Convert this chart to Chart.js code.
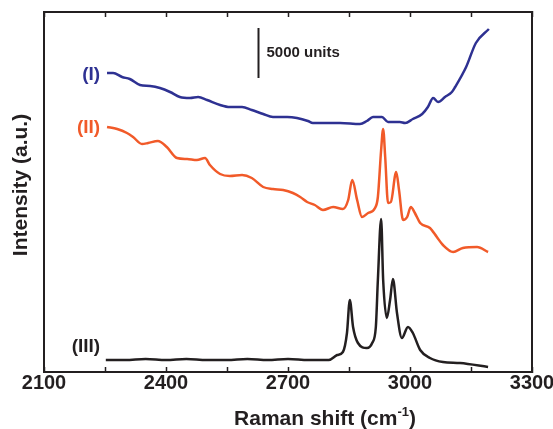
<!DOCTYPE html>
<html>
<head>
<meta charset="utf-8">
<script src="https://cdn.jsdelivr.net/npm/chart.js@4.4.1/dist/chart.umd.min.js"></script>
<style>
  html, body { margin: 0; padding: 0; background: #fff; }
</style>
</head>
<body>
<canvas id="chart" width="553" height="429"></canvas>
<script>
const FONT = '"Liberation Sans", Arial, Helvetica, sans-serif';
const INK = '#231f20';

// x ticks (majors labelled, minors in between)
const xMin = 2100, xMax = 3300, xMinorStep = 150, xMajorStep = 300;
const yMin = 0, yMax = 36000;

const seriesNames = ['(I)', '(II)', '(III)'];
const seriesColors = ['#2e3192', '#f15a29', INK];

// (I)
const blueX = [2255, 2270, 2292, 2311, 2336, 2361, 2385, 2410, 2434, 2459, 2479, 2501, 2533, 2557, 2587, 2611,
  2639, 2663, 2698, 2722, 2749, 2761, 2796, 2828, 2877, 2894, 2909, 2931, 2946, 2975, 2988, 3007, 3030, 3044,
  3057, 3069, 3086, 3103, 3111, 3138, 3162, 3194];
const blueY = [29900, 29900, 29500, 29300, 28700, 28600, 28400, 28000, 27500, 27400, 27500, 27200, 26700, 26500,
  26500, 26200, 25800, 25500, 25500, 25400, 25100, 24900, 24900, 24900, 24800, 25100, 25500, 25500, 25000, 25000,
  24900, 25300, 25800, 26500, 27400, 27000, 27500, 28000, 28500, 30500, 32900, 34300];

// (II)
const orangeX = [2255, 2280, 2304, 2319, 2341, 2356, 2380, 2402, 2427, 2452, 2476, 2496, 2508, 2533, 2557, 2587,
  2611, 2639, 2663, 2688, 2712, 2730, 2747, 2766, 2786, 2811, 2835, 2848, 2858, 2870, 2882, 2897, 2914, 2921,
  2929, 2934, 2939, 2946, 2953, 2966, 2973, 2983, 2993, 3002, 3012, 3025, 3049, 3066, 3081, 3106, 3130, 3165, 3192];
const orangeY = [24500, 24300, 23900, 23500, 22800, 22900, 23100, 22500, 21400, 21300, 21200, 21400, 20700, 19800,
  19600, 19700, 19400, 18500, 18300, 18200, 17900, 17500, 17000, 16700, 16200, 16500, 16300, 17200, 19200, 17200,
  15500, 15900, 16400, 17500, 22200, 24300, 21500, 16900, 17000, 20000, 18200, 15200, 15500, 16500, 15900, 14900,
  14400, 13500, 12700, 12000, 12400, 12500, 12000];

// (III)
const blackX = [2252, 2300, 2350, 2400, 2450, 2500, 2550, 2600, 2650, 2700, 2750, 2800, 2821, 2835, 2845, 2852,
  2860, 2872, 2894, 2907, 2916, 2921, 2929, 2934, 2943, 2951, 2958, 2968, 2980, 2995, 3007, 3025, 3049, 3081,
  3123, 3192];
const blackY = [1200, 1200, 1300, 1200, 1300, 1200, 1200, 1300, 1200, 1300, 1200, 1200, 1700, 2000, 3900, 7200,
  4500, 2900, 2400, 2900, 4500, 9200, 15300, 9200, 5400, 7200, 9300, 5900, 3400, 4500, 3900, 2200, 1400, 1000,
  900, 500];

// curve labels, right-aligned at these data positions
const labelX = [2238, 2238, 2238];
const labelY = [29700, 24400, 2500];

// scale bar
const scaleBarX = 2626, scaleBarTop = 34400, scaleBarSize = 5000;

function pts(xs, ys) { return xs.map((v, i) => ({ x: v, y: ys[i] })); }

const seriesData = [pts(blueX, blueY), pts(orangeX, orangeY), pts(blackX, blackY)];

const overlay = {
  id: 'overlay',
  afterDraw(chart) {
    const { ctx, scales: { x, y } } = chart;
    ctx.save();
    ctx.fillStyle = INK;
    ctx.strokeStyle = INK;

    // scale bar
    const bx = Math.round(x.getPixelForValue(scaleBarX)) + 0.5;
    ctx.lineWidth = 2;
    ctx.beginPath();
    ctx.moveTo(bx, y.getPixelForValue(scaleBarTop));
    ctx.lineTo(bx, y.getPixelForValue(scaleBarTop - scaleBarSize));
    ctx.stroke();
    ctx.font = 'bold 15px ' + FONT;
    ctx.textAlign = 'left';
    ctx.textBaseline = 'middle';
    ctx.fillText(scaleBarSize + ' units', bx + 8, y.getPixelForValue(scaleBarTop - scaleBarSize / 2));

    // curve labels
    ctx.font = 'bold 19px ' + FONT;
    ctx.textAlign = 'right';
    seriesNames.forEach((n, i) => {
      ctx.fillStyle = seriesColors[i];
      ctx.fillText(n, x.getPixelForValue(labelX[i]), y.getPixelForValue(labelY[i]));
    });

    // x title with superscript
    ctx.fillStyle = INK;
    ctx.textAlign = 'left';
    ctx.textBaseline = 'alphabetic';
    const big = 'bold 21px ' + FONT, small = 'bold 13px ' + FONT;
    const p1 = 'Raman shift (cm', p2 = '-1', p3 = ')';
    ctx.font = big; const w1 = ctx.measureText(p1).width, w3 = ctx.measureText(p3).width;
    ctx.font = small; const w2 = ctx.measureText(p2).width;
    let tx = 325 - (w1 + w2 + w3) / 2;
    const base = 425;
    ctx.font = big; ctx.fillText(p1, tx, base); tx += w1;
    ctx.font = small; ctx.fillText(p2, tx, base - 9); tx += w2;
    ctx.font = big; ctx.fillText(p3, tx, base);

    // y title
    ctx.translate(21, 185);
    ctx.rotate(-Math.PI / 2);
    ctx.font = big;
    ctx.textAlign = 'center';
    ctx.textBaseline = 'middle';
    ctx.fillText('Intensity (a.u.)', 0, 0);
    ctx.restore();
  }
};

const tickGrid = { drawOnChartArea: false, drawTicks: true, tickLength: -5, tickColor: INK, tickWidth: 1.5 };
const frame = { display: true, color: INK, width: 2 };

new Chart(document.getElementById('chart'), {
  type: 'line',
  data: {
    datasets: seriesData.map((d, i) => ({
      label: seriesNames[i],
      data: d,
      borderColor: seriesColors[i],
      borderWidth: 2.5,
      pointRadius: 0,
      fill: false,
      cubicInterpolationMode: 'monotone'
    }))
  },
  options: {
    responsive: false,
    animation: false,
    layout: { padding: 0 },
    plugins: { legend: { display: false }, tooltip: { enabled: false } },
    scales: {
      x: {
        type: 'linear', position: 'bottom', min: xMin, max: xMax,
        ticks: {
          stepSize: xMinorStep, padding: 4, color: INK, maxRotation: 0, autoSkip: false,
          font: { family: FONT, size: 20, weight: 'bold' },
          callback: v => (v % xMajorStep === 0 ? String(v) : '')
        },
        grid: tickGrid, border: frame,
        afterFit: s => { s.height = 57; s.paddingLeft = 0; s.paddingRight = 0; }
      },
      x2: {
        type: 'linear', position: 'top', min: xMin, max: xMax,
        ticks: { stepSize: xMinorStep, display: false },
        grid: tickGrid, border: frame,
        afterFit: s => { s.height = 12; s.paddingLeft = 0; s.paddingRight = 0; }
      },
      y: {
        min: yMin, max: yMax,
        ticks: { display: false }, grid: { display: false }, border: frame,
        afterFit: s => { s.width = 44; s.paddingTop = 0; s.paddingBottom = 0; }
      },
      y2: {
        position: 'right', min: yMin, max: yMax,
        ticks: { display: false }, grid: { display: false }, border: frame,
        afterFit: s => { s.width = 21; s.paddingTop = 0; s.paddingBottom = 0; }
      }
    }
  },
  plugins: [overlay]
});
</script>
</body>
</html>
